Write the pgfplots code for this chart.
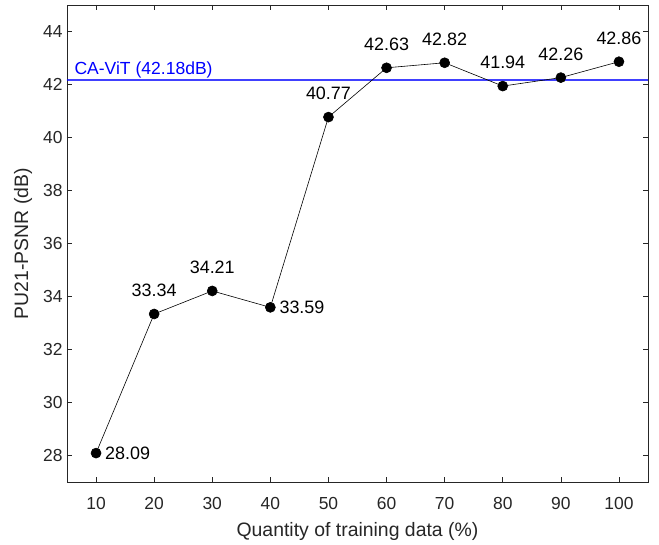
\documentclass[border=0pt]{standalone}
\usepackage{pgfplots}
\pgfplotsset{compat=1.18}
\usepackage{pgfplotstable}
\usepackage{fontspec}
\setmainfont{Liberation Sans}
\definecolor{axgray}{rgb}{0.15,0.15,0.15}
\definecolor{refblue}{rgb}{0,0,1}
\pgfplotstableread{
x y
10 28.09
20 33.34
30 34.21
40 33.59
50 40.77
60 42.63
70 42.82
80 41.94
90 42.26
100 42.86
}\datatable
\pgfplotstableread{
x y
20 33.34
30 34.21
50 40.77
60 42.63
70 42.82
80 41.94
90 42.26
100 42.86
}\abovetable
\pgfplotstableread{
x y
10 28.09
40 33.59
}\righttable
\pgfplotstableread{
x y
5 42.18
105 42.18
}\reftable
\begin{document}
\begin{tikzpicture}
\begin{axis}[
  scale only axis,
  width=581bp, height=477bp,
  xmin=5, xmax=105, ymin=27, ymax=45,
  xtick={10,20,...,100},
  ytick={28,30,...,44},
  tick align=inside,
  major tick length=5bp,
  axis line style={axgray, line width=0.6pt},
  every tick/.style={axgray, line width=0.6pt},
  tick label style={font=\fontsize{17.5}{20}\selectfont, text=axgray},
  /pgf/number format/assume math mode=true,
  xticklabel style={yshift=-12bp},
  yticklabel style={xshift=-1bp},
  label style={font=\fontsize{19.5}{22}\selectfont, text=axgray},
  xlabel style={yshift=-6bp},
  ylabel style={yshift=4bp},
  xlabel={Quantity of training data (\%)},
  ylabel={PU21-PSNR (dB)},
  clip=false,
]
\addplot[refblue, line width=1.6bp, opacity=0.75, mark=none] table[x=x, y=y] {\reftable};
\node[text=refblue, anchor=south west, font=\fontsize{17.6}{20}\selectfont, inner sep=1.5bp] at (axis cs:6,42.18) {CA-ViT (42.18dB)};
\addplot[black, line width=0.6pt, mark=*, mark size=5bp] table[x=x, y=y] {\datatable};
\addplot[draw=none, mark=none, nodes near coords, point meta=explicit symbolic,
  every node near coord/.append style={font=\fontsize{18}{20}\selectfont, anchor=south, inner sep=7bp, yshift=10bp, text=black}]
  table[x=x, y=y, meta=y] {\abovetable};
\addplot[draw=none, mark=none, nodes near coords, point meta=explicit symbolic,
  every node near coord/.append style={font=\fontsize{18}{20}\selectfont, anchor=west, inner sep=7bp, xshift=2bp, text=black}]
  table[x=x, y=y, meta=y] {\righttable};
\end{axis}
\path ([xshift=-67bp,yshift=-60bp]current axis.south west) rectangle ([xshift=11bp,yshift=5bp]current axis.north east);
\end{tikzpicture}
\end{document}
